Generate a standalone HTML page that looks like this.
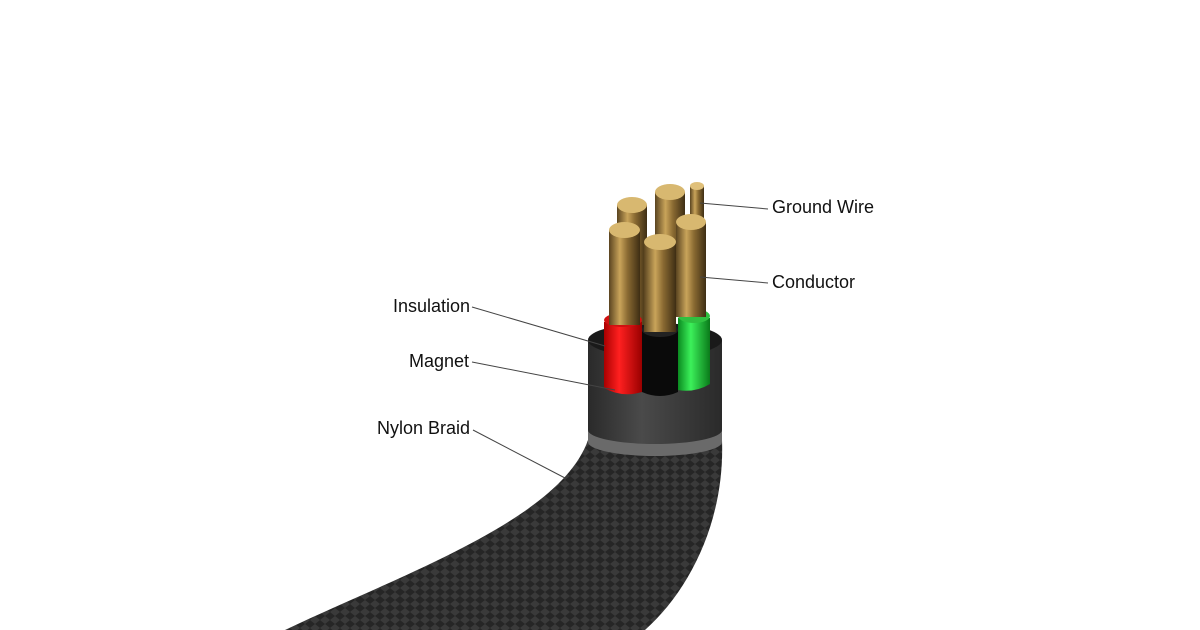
<!DOCTYPE html>
<html><head><style>
html,body{margin:0;padding:0;background:#fff;}
svg{display:block}
text{font-family:"Liberation Sans",sans-serif;font-size:18px;fill:#111}
</style></head><body>
<svg width="1200" height="630" viewBox="0 0 1200 630" xmlns="http://www.w3.org/2000/svg">
<defs>
<linearGradient id="gold" x1="0" x2="1">
<stop offset="0" stop-color="#5a4420"/><stop offset="0.35" stop-color="#c9a45a"/><stop offset="0.6" stop-color="#8a6a32"/><stop offset="1" stop-color="#3e2e14"/></linearGradient>
<linearGradient id="sleeve" x1="0" x2="1">
<stop offset="0" stop-color="#2a2a2a"/><stop offset="0.4" stop-color="#4a4a4a"/><stop offset="1" stop-color="#2a2a2a"/></linearGradient>
<linearGradient id="red" x1="0" x2="1"><stop offset="0" stop-color="#a00"/><stop offset="0.4" stop-color="#ff2020"/><stop offset="1" stop-color="#900"/></linearGradient>
<linearGradient id="grn" x1="0" x2="1"><stop offset="0" stop-color="#0a8a20"/><stop offset="0.4" stop-color="#3cf05a"/><stop offset="1" stop-color="#0a7a1a"/></linearGradient>
<pattern id="braid" width="10" height="8" patternUnits="userSpaceOnUse">
<rect width="10" height="8" fill="#262626"/><path d="M0 4 L5 0 L10 4 L5 8Z" fill="#3a3a3a"/></pattern>
</defs>
<path d="M285 630 C400 575 560 520 588 440 L722 440 C725 520 690 590 645 630 Z" fill="url(#braid)"/>
<path d="M588 340 L588 440 A67 14 0 0 0 722 440 L722 340 Z" fill="url(#sleeve)"/>
<path d="M588 430 A67 14 0 0 0 722 430 L722 442 A67 14 0 0 1 588 442Z" fill="#6a6a6a"/>
<ellipse cx="655" cy="340" rx="67" ry="17" fill="#1a1a1a"/>
<rect x="617" y="205" width="30" height="120" fill="url(#gold)"/>
<ellipse cx="632" cy="205" rx="15" ry="8" fill="#d8b870"/>
<rect x="655" y="192" width="30" height="120" fill="url(#gold)"/>
<ellipse cx="670" cy="192" rx="15" ry="8" fill="#d8b870"/>
<rect x="690" y="186" width="14" height="80" fill="url(#gold)"/>
<ellipse cx="697" cy="186" rx="7" ry="4" fill="#e0c07a"/>
<path d="M604 322 L604 388 Q622 398 642 392 L642 322Z" fill="url(#red)"/>
<path d="M642 330 L642 392 Q660 400 678 392 L678 330Z" fill="#0a0a0a"/>
<path d="M678 318 L678 390 Q695 393 710 384 L710 318Z" fill="url(#grn)"/>
<ellipse cx="623" cy="320" rx="19" ry="7" fill="#d01010"/>
<ellipse cx="660" cy="330" rx="18" ry="7" fill="#222"/>
<ellipse cx="694" cy="316" rx="16" ry="7" fill="#30c040"/>
<rect x="609" y="230" width="31" height="95" fill="url(#gold)"/>
<ellipse cx="624.5" cy="230" rx="15.5" ry="8" fill="#d8b870"/>
<rect x="644" y="242" width="32" height="90" fill="url(#gold)"/>
<ellipse cx="660" cy="242" rx="16" ry="8" fill="#d8b870"/>
<rect x="676" y="222" width="30" height="95" fill="url(#gold)"/>
<ellipse cx="691" cy="222" rx="15" ry="8" fill="#d8b870"/>
<g stroke="#444" stroke-width="1" fill="none">
<line x1="700" y1="203" x2="768" y2="209"/>
<line x1="700" y1="277" x2="768" y2="283"/>
<line x1="472" y1="307" x2="605" y2="346"/>
<line x1="472" y1="362" x2="615" y2="390"/>
<line x1="473" y1="430" x2="565" y2="478"/>
</g>
<text x="772" y="213">Ground Wire</text>
<text x="772" y="288">Conductor</text>
<text x="470" y="312" text-anchor="end">Insulation</text>
<text x="469" y="367" text-anchor="end">Magnet</text>
<text x="470" y="434" text-anchor="end">Nylon Braid</text>
</svg>
</body></html>
